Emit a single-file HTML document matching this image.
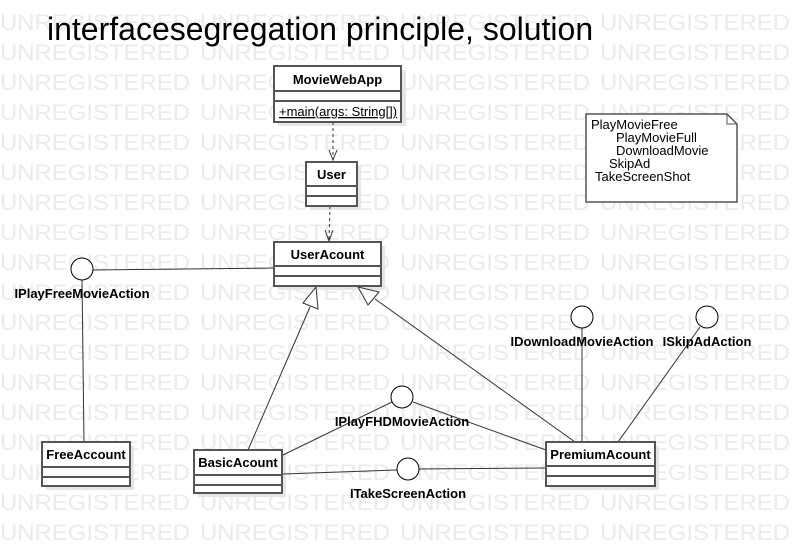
<!DOCTYPE html>
<html><head><meta charset="utf-8"><style>
html,body{margin:0;padding:0;background:#fff;}
svg{display:block;font-family:"Liberation Sans",Arial,sans-serif;}
</style></head><body>
<svg width="795" height="546" viewBox="0 0 795 546" xmlns="http://www.w3.org/2000/svg">
<defs>
<g id="wm">
<text x="0" y="30" textLength="190" lengthAdjust="spacingAndGlyphs">UNREGISTERED</text>
<text x="200" y="30" textLength="190" lengthAdjust="spacingAndGlyphs">UNREGISTERED</text>
<text x="400" y="30" textLength="190" lengthAdjust="spacingAndGlyphs">UNREGISTERED</text>
<text x="600" y="30" textLength="190" lengthAdjust="spacingAndGlyphs">UNREGISTERED</text>
</g>
</defs>
<g fill="#ebebeb" font-size="22">
<use href="#wm" y="0"/><use href="#wm" y="30"/><use href="#wm" y="60"/><use href="#wm" y="90"/>
<use href="#wm" y="120"/><use href="#wm" y="150"/><use href="#wm" y="180"/><use href="#wm" y="210"/>
<use href="#wm" y="240"/><use href="#wm" y="270"/><use href="#wm" y="300"/><use href="#wm" y="330"/>
<use href="#wm" y="360"/><use href="#wm" y="390"/><use href="#wm" y="420"/><use href="#wm" y="450"/>
<use href="#wm" y="480"/><use href="#wm" y="510"/>
</g>
<text x="47" y="40" font-size="32" fill="#000">interfacesegregation principle, solution</text>

<!-- shadows -->
<g fill="#e6e6e6">
<rect x="278" y="70" width="128" height="56"/>
<rect x="310" y="166" width="51" height="44"/>
<rect x="278" y="246" width="107" height="44"/>
<rect x="46" y="446" width="88" height="44"/>
<rect x="198" y="454" width="88" height="43"/>
<rect x="550" y="446" width="109" height="44"/>
</g>

<!-- connectors -->
<g stroke="#333" fill="none" stroke-width="1">
<line x1="333" y1="122" x2="333" y2="160" stroke-dasharray="3,3"/>
<polyline points="329,150 333,160 337,150"/>
<line x1="330" y1="206" x2="329" y2="240" stroke-dasharray="3,3"/>
<polyline points="325,230 329,241 333,230"/>
<line x1="93" y1="270" x2="274" y2="268"/>
<line x1="82" y1="280" x2="84" y2="442"/>
<line x1="248" y1="450" x2="310" y2="307"/>
<polygon points="316,287 303,303 318,309" fill="#fff"/>
<line x1="575" y1="442" x2="375" y2="299"/>
<polygon points="358,287 368,305 379,292" fill="#fff"/>
<line x1="582" y1="328" x2="582" y2="442"/>
<line x1="700" y1="327" x2="618" y2="442"/>
<line x1="392" y1="402" x2="283" y2="455"/>
<line x1="413" y1="402" x2="546" y2="450"/>
<line x1="283" y1="474" x2="397" y2="470"/>
<line x1="419" y1="469" x2="546" y2="468"/>
</g>

<!-- circles -->
<g stroke="#000" fill="#fff" stroke-width="1">
<circle cx="82" cy="269" r="11"/>
<circle cx="582" cy="317" r="11"/>
<circle cx="707" cy="317" r="11"/>
<circle cx="402" cy="397" r="11"/>
<circle cx="408" cy="469" r="11"/>
</g>

<!-- boxes -->
<g stroke="#555" stroke-width="2" fill="#fff">
<rect x="274" y="66" width="127" height="56"/>
<line x1="274" y1="91" x2="401" y2="91"/><line x1="274" y1="101" x2="401" y2="101"/>
<rect x="306" y="162" width="51" height="44"/>
<line x1="306" y1="186" x2="357" y2="186"/><line x1="306" y1="196" x2="357" y2="196"/>
<rect x="274" y="242" width="107" height="44"/>
<line x1="274" y1="266" x2="381" y2="266"/><line x1="274" y1="276" x2="381" y2="276"/>
<rect x="42" y="442" width="88" height="44"/>
<line x1="42" y1="467" x2="130" y2="467"/><line x1="42" y1="477" x2="130" y2="477"/>
<rect x="194" y="450" width="88" height="43"/>
<line x1="194" y1="475" x2="282" y2="475"/><line x1="194" y1="485" x2="282" y2="485"/>
<rect x="546" y="442" width="109" height="44"/>
<line x1="546" y1="466" x2="655" y2="466"/><line x1="546" y1="476" x2="655" y2="476"/>
</g>

<g font-size="13" font-weight="bold" fill="#000" text-anchor="middle">
<text x="337.5" y="84">MovieWebApp</text>
<text x="331.5" y="179">User</text>
<text x="327.5" y="259">UserAcount</text>
<text x="86" y="459">FreeAccount</text>
<text x="238" y="467">BasicAcount</text>
<text x="600.5" y="459">PremiumAcount</text>
<text x="82" y="298">IPlayFreeMovieAction</text>
<text x="582" y="346">IDownloadMovieAction</text>
<text x="707" y="346">ISkipAdAction</text>
<text x="402" y="426">IPlayFHDMovieAction</text>
<text x="408" y="498">ITakeScreenAction</text>
</g>
<text x="279" y="116" font-size="13" fill="#000" text-decoration="underline">+main(args: String[])</text>

<!-- note -->
<path d="M586,114 H727 L737,124 V202 H586 Z" fill="#fff" stroke="#555" stroke-width="1.5"/>
<path d="M727,114 V124 H737" fill="none" stroke="#555" stroke-width="1"/>
<g font-size="13" fill="#000">
<text x="591" y="129">PlayMovieFree</text>
<text x="616" y="142">PlayMovieFull</text>
<text x="616" y="155">DownloadMovie</text>
<text x="609" y="168">SkipAd</text>
<text x="595" y="181">TakeScreenShot</text>
</g>
</svg>
</body></html>
